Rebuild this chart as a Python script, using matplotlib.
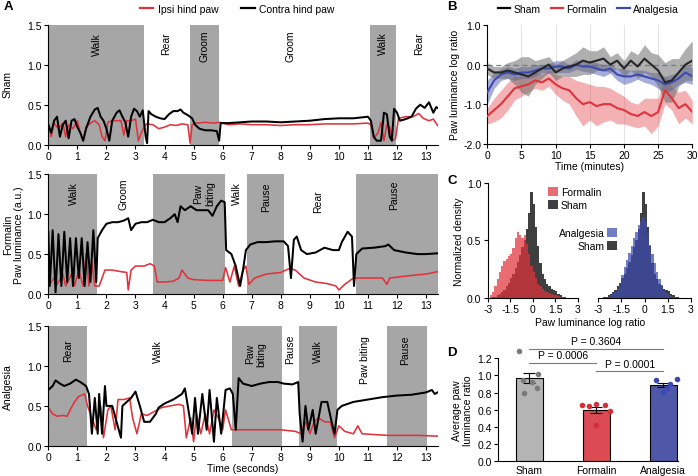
import numpy as np
import matplotlib
matplotlib.use("Agg")
import matplotlib.pyplot as plt
from matplotlib.patches import Patch
from matplotlib.lines import Line2D

plt.rcParams['font.family'] = ['Liberation Sans', 'DejaVu Sans']
plt.rcParams['font.size'] = 7.5
plt.rcParams['axes.unicode_minus'] = False
plt.rcParams['axes.linewidth'] = 0.8
plt.rcParams['xtick.major.size'] = 3
plt.rcParams['ytick.major.size'] = 3
plt.rcParams['xtick.major.width'] = 0.8
plt.rcParams['ytick.major.width'] = 0.8
plt.rcParams['xtick.major.pad'] = 1.5
plt.rcParams['ytick.major.pad'] = 1.5

RED = '#e0333c'
BLUE = '#3c4bb0'
SHADE = '#a6a6a6'

# ---------------- panel A data (time s, luminance a.u.) ----------------
sham_ipsi = [(0, 0.25), (0.1, 0.1), (0.2, 0.27), (0.35, 0.2), (0.5, 0.27), (0.6, 0.1), (0.7, 0.25),
             (0.85, 0.2), (1.0, 0.3), (1.1, 0.15), (1.2, 0.05), (1.3, 0.22), (1.45, 0.27), (1.6, 0.3),
             (1.75, 0.25), (1.85, 0.1), (1.95, 0.05), (2.05, 0.28), (2.2, 0.3), (2.35, 0.3), (2.5, 0.3),
             (2.6, 0.12), (2.7, 0.3), (2.85, 0.3), (3.0, 0.32), (3.1, 0.05), (3.2, 0.15), (3.3, 0.22),
             (3.38, 0.26), (3.6, 0.25), (3.8, 0.2), (4.0, 0.22), (4.2, 0.25), (4.4, 0.24), (4.6, 0.26),
             (4.8, 0.25), (4.88, 0.02), (4.95, 0.25), (5.1, 0.27), (5.4, 0.28), (5.7, 0.27), (5.9, 0.28),
             (6.2, 0.25), (6.6, 0.26), (7.0, 0.25), (7.5, 0.25), (8.0, 0.24), (8.5, 0.25), (9.0, 0.25),
             (9.5, 0.26), (10.0, 0.26), (10.5, 0.26), (11.0, 0.27), (11.1, 0.25), (11.2, 0.08),
             (11.35, 0.15), (11.45, 0.28), (11.55, 0.05), (11.65, 0.25), (11.75, 0.22), (11.85, 0.05),
             (11.95, 0.08), (12.05, 0.33), (12.3, 0.35), (12.55, 0.35), (12.75, 0.39), (12.9, 0.33),
             (13.1, 0.3), (13.25, 0.32), (13.4, 0.24)]
sham_contra = [(0, 0.25), (0.1, 0.15), (0.2, 0.3), (0.3, 0.35), (0.4, 0.1), (0.5, 0.25), (0.6, 0.3),
               (0.7, 0.08), (0.8, 0.3), (0.9, 0.32), (1.0, 0.22), (1.1, 0.15), (1.2, 0.05), (1.3, 0.2),
               (1.45, 0.35), (1.6, 0.44), (1.7, 0.46), (1.8, 0.35), (1.9, 0.3), (2.0, 0.2), (2.1, 0.05),
               (2.2, 0.3), (2.35, 0.4), (2.45, 0.43), (2.55, 0.35), (2.65, 0.28), (2.75, 0.1), (2.85, 0.35),
               (2.95, 0.45), (3.05, 0.42), (3.15, 0.35), (3.25, 0.43), (3.35, 0.1), (3.4, 0.02),
               (3.45, 0.42), (3.55, 0.38), (3.7, 0.35), (3.85, 0.33), (4.0, 0.32), (4.15, 0.38),
               (4.3, 0.42), (4.45, 0.42), (4.55, 0.44), (4.65, 0.4), (4.8, 0.37), (4.95, 0.33),
               (5.05, 0.25), (5.2, 0.2), (5.4, 0.18), (5.6, 0.18), (5.8, 0.17), (5.88, 0.05),
               (5.93, 0.27), (6.2, 0.27), (6.6, 0.28), (7.0, 0.29), (7.5, 0.29), (8.0, 0.28), (8.5, 0.29),
               (9.0, 0.3), (9.5, 0.32), (10.0, 0.33), (10.5, 0.33), (11.0, 0.35), (11.1, 0.3), (11.2, 0.1),
               (11.3, 0.05), (11.45, 0.05), (11.55, 0.4), (11.65, 0.38), (11.75, 0.1), (11.82, 0.05),
               (11.9, 0.45), (12.0, 0.4), (12.1, 0.3), (12.3, 0.32), (12.5, 0.35), (12.65, 0.45),
               (12.8, 0.5), (12.95, 0.46), (13.1, 0.53), (13.25, 0.4), (13.35, 0.47), (13.4, 0.46)]

formalin_ipsi = [(0, 0.1), (0.2, 0.2), (0.3, 0.12), (0.5, 0.25), (0.6, 0.1), (0.8, 0.25), (0.9, 0.1),
                 (1.05, 0.3), (1.2, 0.1), (1.3, 0.5), (1.4, 0.1), (1.5, 0.4), (1.6, 0.1), (1.75, 0.1),
                 (1.95, 0.3), (2.2, 0.3), (2.5, 0.28), (2.7, 0.27), (2.75, 0.05), (2.85, 0.3), (3.0, 0.35),
                 (3.3, 0.35), (3.5, 0.38), (3.65, 0.35), (3.75, 0.15), (4.0, 0.15), (4.3, 0.16), (4.5, 0.2),
                 (4.6, 0.3), (4.8, 0.2), (5.0, 0.18), (5.5, 0.17), (6.0, 0.17), (6.1, 0.33), (6.25, 0.15),
                 (6.4, 0.35), (6.55, 0.1), (6.7, 0.3), (6.8, 0.35), (6.9, 0.12), (7.1, 0.2), (7.5, 0.25),
                 (8.0, 0.27), (8.3, 0.32), (8.5, 0.3), (8.8, 0.2), (9.2, 0.15), (9.6, 0.13), (9.9, 0.1),
                 (10.0, 0.05), (10.2, 0.12), (10.5, 0.2), (11.0, 0.2), (11.5, 0.2), (11.65, 0.12),
                 (11.75, 0.2), (12.2, 0.22), (12.7, 0.24), (13.0, 0.25), (13.4, 0.28)]
formalin_contra = [(0, 0.78), (0.05, 0.1), (0.15, 0.8), (0.25, 0.02), (0.35, 0.75), (0.45, 0.1),
                   (0.55, 0.78), (0.65, 0.15), (0.75, 0.7), (0.85, 0.1), (0.95, 0.7), (1.05, 0.2),
                   (1.15, 0.7), (1.25, 0.1), (1.35, 0.65), (1.45, 0.15), (1.55, 0.8), (1.65, 0.15),
                   (1.7, 0.7), (1.85, 0.8), (2.0, 0.88), (2.2, 0.9), (2.4, 0.9), (2.6, 0.92), (2.75, 0.95),
                   (2.85, 0.8), (3.0, 0.88), (3.2, 0.9), (3.4, 0.9), (3.6, 0.93), (3.8, 0.9), (4.0, 0.9),
                   (4.2, 0.95), (4.35, 1.0), (4.45, 0.9), (4.55, 1.1), (4.7, 1.05), (4.9, 1.1), (5.1, 1.05),
                   (5.3, 1.05), (5.5, 1.05), (5.65, 0.98), (5.8, 1.1), (5.95, 1.17), (6.07, 1.15),
                   (6.12, 0.55), (6.3, 0.5), (6.45, 0.35), (6.6, 0.1), (6.7, 0.3), (6.8, 0.55), (6.95, 0.62),
                   (7.2, 0.65), (7.5, 0.65), (7.8, 0.66), (8.1, 0.66), (8.25, 0.6), (8.35, 0.2), (8.45, 0.68),
                   (8.55, 0.72), (8.7, 0.55), (8.9, 0.5), (9.2, 0.52), (9.5, 0.58), (9.8, 0.55), (10.0, 0.55),
                   (10.1, 0.65), (10.3, 0.78), (10.45, 0.72), (10.52, 0.1), (10.6, 0.5), (10.8, 0.57),
                   (11.2, 0.58), (11.6, 0.6), (11.7, 0.62), (11.9, 0.55), (12.3, 0.52), (12.7, 0.5),
                   (13.0, 0.5), (13.4, 0.51)]

analgesia_ipsi = [(0, 0.48), (0.15, 0.4), (0.3, 0.37), (0.5, 0.38), (0.65, 0.37), (0.75, 0.45),
                  (0.9, 0.55), (1.05, 0.62), (1.25, 0.65), (1.35, 0.5), (1.5, 0.35), (1.65, 0.2),
                  (1.8, 0.5), (1.9, 0.1), (2.05, 0.45), (2.15, 0.5), (2.3, 0.2), (2.4, 0.58), (2.6, 0.58),
                  (2.8, 0.6), (2.9, 0.35), (3.05, 0.15), (3.2, 0.4), (3.4, 0.38), (3.6, 0.42), (3.9, 0.48),
                  (4.2, 0.5), (4.5, 0.52), (4.65, 0.5), (4.75, 0.1), (4.9, 0.35), (5.0, 0.05), (5.1, 0.4),
                  (5.25, 0.15), (5.4, 0.4), (5.55, 0.15), (5.7, 0.45), (5.85, 0.35), (6.0, 0.2), (6.1, 0.45),
                  (6.3, 0.2), (6.5, 0.2), (7.0, 0.2), (7.5, 0.2), (8.0, 0.2), (8.5, 0.18), (8.7, 0.15),
                  (8.85, 0.3), (9.0, 0.15), (9.15, 0.3), (9.3, 0.35), (9.5, 0.3), (9.7, 0.3), (9.85, 0.1),
                  (10.0, 0.25), (10.2, 0.18), (10.5, 0.15), (10.65, 0.25), (10.8, 0.15), (11.2, 0.14),
                  (11.7, 0.13), (12.2, 0.13), (12.7, 0.13), (13.4, 0.12)]
analgesia_contra = [(0, 0.7), (0.15, 0.75), (0.25, 0.82), (0.4, 0.78), (0.55, 0.75), (0.75, 0.78),
                    (0.95, 0.83), (1.1, 0.8), (1.3, 0.75), (1.4, 0.65), (1.5, 0.15), (1.6, 0.6), (1.7, 0.15),
                    (1.75, 0.65), (1.85, 0.15), (1.95, 0.75), (2.0, 0.5), (2.2, 0.5), (2.35, 0.3), (2.5, 0.1),
                    (2.55, 0.5), (2.7, 0.55), (2.85, 0.6), (3.0, 0.68), (3.15, 0.5), (3.3, 0.3), (3.5, 0.3),
                    (3.7, 0.4), (3.8, 0.48), (4.0, 0.53), (4.3, 0.58), (4.6, 0.65), (4.7, 0.72), (4.8, 0.5),
                    (4.95, 0.15), (5.05, 0.6), (5.15, 0.15), (5.3, 0.65), (5.45, 0.2), (5.55, 0.7),
                    (5.7, 0.05), (5.8, 0.6), (5.95, 0.15), (6.1, 0.7), (6.25, 0.72), (6.35, 0.65),
                    (6.45, 0.2), (6.55, 0.85), (6.7, 0.78), (7.0, 0.75), (7.3, 0.78), (7.6, 0.8), (7.9, 0.8),
                    (8.1, 0.78), (8.4, 0.77), (8.6, 0.8), (8.65, 0.4), (8.75, 0.05), (8.85, 0.5), (8.95, 0.2),
                    (9.1, 0.45), (9.2, 0.15), (9.4, 0.55), (9.6, 0.55), (9.75, 0.3), (9.85, 0.15),
                    (9.95, 0.45), (10.1, 0.5), (10.5, 0.55), (11.0, 0.58), (11.5, 0.61), (12.0, 0.63),
                    (12.5, 0.64), (13.0, 0.67), (13.2, 0.7), (13.3, 0.65), (13.4, 0.67)]

# behaviour epochs: shaded (start, end) and labels (centre time, text)
sham_shade = [(0, 3.3), (4.88, 5.87), (11.07, 11.95)]
sham_behav = [(1.66, 'Walk'), (4.07, 'Rear'), (5.36, 'Groom'), (8.35, 'Groom'), (11.5, 'Walk'), (12.76, 'Rear')]
formalin_shade = [(0, 1.66), (3.59, 6.08), (6.85, 8.12), (10.58, 13.4)]
formalin_behav = [(0.88, 'Walk'), (2.6, 'Groom'), (5.36, 'Paw\nbiting'), (6.48, 'Walk'), (7.48, 'Pause'),
                  (9.29, 'Rear'), (11.9, 'Pause')]
analgesia_shade = [(0, 1.34), (6.33, 8.03), (8.63, 9.95), (11.66, 13.02)]
analgesia_behav = [(0.69, 'Rear'), (3.77, 'Walk'), (7.13, 'Paw\nbiting'), (8.31, 'Pause'), (9.29, 'Walk'),
                   (10.9, 'Paw biting'), (12.27, 'Pause')]

# ---------------- panel B data (minutes, log ratio) ----------------
minutes = list(range(31))
sham_mean = [-0.1, -0.2, -0.2, -0.15, -0.2, -0.25, -0.3, -0.2, -0.1, 0.0, -0.2, -0.1, -0.05, 0.0, 0.1, 0.05,
             0.1, 0.15, 0.0, 0.1, -0.1, 0.1, -0.05, 0.15, 0.0, -0.15, -0.45, -0.4, -0.2, 0.0, 0.1]
sham_err = [0.15, 0.15, 0.15, 0.2, 0.3, 0.45, 0.5, 0.3, 0.25, 0.2, 0.2, 0.2, 0.25, 0.3, 0.35, 0.3, 0.25, 0.3,
            0.2, 0.2, 0.2, 0.25, 0.3, 0.35, 0.3, 0.4, 0.5, 0.55, 0.35, 0.4, 0.5]
formalin_mean = [-1.3, -1.15, -1.0, -0.8, -0.6, -0.55, -0.5, -0.4, -0.45, -0.35, -0.5, -0.6, -0.65, -0.85,
                 -1.0, -0.95, -1.05, -1.0, -1.0, -1.1, -1.15, -1.25, -1.3, -1.2, -1.3, -1.2, -0.65, -0.85,
                 -1.1, -1.0, -1.2]
formalin_err = [0.2, 0.3, 0.35, 0.35, 0.3, 0.25, 0.2, 0.2, 0.2, 0.2, 0.25, 0.3, 0.35, 0.45, 0.55, 0.45, 0.5,
                0.45, 0.4, 0.4, 0.35, 0.3, 0.3, 0.35, 0.45, 0.35, 0.35, 0.3, 0.4, 0.35, 0.3]
analgesia_mean = [-0.7, -0.4, -0.25, -0.2, -0.25, -0.2, -0.2, -0.15, -0.1, -0.1, -0.05, -0.05, -0.1, 0.0,
                  -0.05, -0.05, -0.1, -0.15, -0.1, -0.25, -0.3, -0.3, -0.25, -0.3, -0.35, -0.4, -0.5, -0.45,
                  -0.35, -0.2, -0.3]
analgesia_err = [0.3, 0.2, 0.15, 0.15, 0.15, 0.15, 0.15, 0.15, 0.1, 0.12, 0.15, 0.15, 0.1, 0.12, 0.12, 0.15,
                 0.15, 0.15, 0.12, 0.15, 0.2, 0.15, 0.12, 0.15, 0.15, 0.2, 0.2, 0.2, 0.15, 0.25, 0.2]

# ---------------- panel C data (histograms, bins of 0.15 from -3 to 3) ----------------
hist_edges = np.linspace(-3, 3, 41)
hist_sham = [0, 0, 0.005, 0.01, 0.02, 0.03, 0.05, 0.07, 0.1, 0.13, 0.17, 0.21, 0.26, 0.31, 0.37, 0.44, 0.5,
             0.6, 0.74, 0.92, 0.82, 0.62, 0.45, 0.3, 0.21, 0.16, 0.12, 0.1, 0.08, 0.065, 0.055, 0.035, 0.02,
             0.01, 0.005, 0, 0, 0, 0, 0]
hist_formalin = [0, 0.02, 0.05, 0.1, 0.16, 0.22, 0.28, 0.32, 0.34, 0.36, 0.38, 0.43, 0.52, 0.57, 0.55, 0.52,
                 0.55, 0.47, 0.38, 0.28, 0.22, 0.17, 0.12, 0.1, 0.08, 0.06, 0.05, 0.04, 0.03, 0.025, 0.02,
                 0.015, 0.01, 0.005, 0, 0, 0, 0, 0, 0]
hist_analgesia = [0, 0, 0, 0.005, 0.01, 0.02, 0.03, 0.05, 0.08, 0.13, 0.2, 0.27, 0.33, 0.39, 0.45, 0.52, 0.57,
                  0.63, 0.67, 0.7, 0.66, 0.56, 0.46, 0.38, 0.3, 0.22, 0.16, 0.11, 0.07, 0.04, 0.025, 0.015,
                  0.01, 0.005, 0, 0, 0, 0, 0, 0]

# ---------------- panel D data ----------------
groups = ['Sham', 'Formalin', 'Analgesia']
group_mean = [0.97, 0.60, 0.89]
group_sem = [0.06, 0.035, 0.02]
sham_pts = [1.29, 1.02, 0.95, 0.92, 0.85, 0.79]
formalin_pts = [0.65, 0.64, 0.67, 0.65, 0.58, 0.42]
analgesia_pts = [0.95, 0.81, 0.85, 0.90, 0.96]
pvals = ['P = 0.3604', 'P = 0.0006', 'P = 0.0001']

W, H = 698, 477


def box(x0, y0, x1, y1):
    return [x0 / W, 1 - y1 / H, (x1 - x0) / W, (y1 - y0) / H]


def clean(ax):
    ax.spines['top'].set_visible(False)
    ax.spines['right'].set_visible(False)


fig = plt.figure(figsize=(6.98, 4.77), dpi=100)

# ---------------- A ----------------
a_rows = [
    (25.7, 145.7, sham_ipsi, sham_contra, sham_shade, sham_behav,
     [1.26, 1.27, 1.24, 1.24, 1.27, 1.27]),
    (175.3, 295.0, formalin_ipsi, formalin_contra, formalin_shade, formalin_behav,
     [1.27, 1.26, 1.27, 1.27, 1.23, 1.17, 1.25]),
    (327.3, 446.7, analgesia_ipsi, analgesia_contra, analgesia_shade, analgesia_behav,
     [1.2, 1.19, 1.16, 1.22, 1.2, 1.09, 1.21]),
]
a_axes = []
for top, bot, ipsi, contra, shade, behav, ly in a_rows:
    ax = fig.add_axes(box(48.3, top, 437.7, bot))
    clean(ax)
    for s0, s1 in shade:
        ax.axvspan(s0, s1, color=SHADE, lw=0, zorder=0)
    for (tc, txt), yy in zip(behav, ly):
        ax.text(tc, yy, txt, rotation=90, ha='center', va='center', multialignment='center', fontsize=7.5)
    t, v = zip(*ipsi)
    ax.plot(t, v, color=RED, lw=1.15, zorder=2)
    t, v = zip(*contra)
    ax.plot(t, v, color='black', lw=1.45, zorder=3)
    ax.set_xlim(0, 13.4)
    ax.set_ylim(0, 1.5)
    ax.set_xticks(range(14))
    ax.set_yticks([0, 0.5, 1.0, 1.5])
    ax.set_yticklabels(['0.0', '0.5', '1.0', '1.5'])
    a_axes.append(ax)
a_axes[2].set_xlabel('Time (seconds)', labelpad=1)

fig.text(8 / W, 1 - 85 / H, 'Sham', rotation=90, ha='center', va='center')
fig.text(8 / W, 1 - 235 / H, 'Formalin', rotation=90, ha='center', va='center')
fig.text(19 / W, 1 - 235 / H, 'Paw luminance (a.u.)', rotation=90, ha='center', va='center')
fig.text(8 / W, 1 - 387 / H, 'Analgesia', rotation=90, ha='center', va='center')

fig.legend([Line2D([], [], color=RED, lw=1.6), Line2D([], [], color='black', lw=1.6)],
           ['Ipsi hind paw', 'Contra hind paw'], loc='center', bbox_to_anchor=(237 / W, 1 - 10 / H),
           ncol=2, frameon=False, handlelength=1.3, handletextpad=0.4, columnspacing=2.2, fontsize=7.5)

# ---------------- B ----------------
axb = fig.add_axes(box(487.3, 26, 692.3, 144.7))
clean(axb)
for xv in [5, 10, 15, 20, 25]:
    axb.axvline(xv, color='#e4e4e4', lw=0.8, zorder=0)
axb.axhline(0, color='#808080', lw=0.9, ls=(0, (4, 3)), zorder=1)
mins = np.array(minutes)
for mean, err, col, al in [(formalin_mean, formalin_err, RED, 0.38), (analgesia_mean, analgesia_err, BLUE, 0.45),
                           (sham_mean, sham_err, '#6e6e6e', 0.55)]:
    m = np.array(mean)
    e = np.array(err)
    axb.fill_between(mins, m - e, m + e, color=col, alpha=al, lw=0, zorder=2)
axb.plot(mins, formalin_mean, color=RED, lw=1.5, zorder=3)
axb.plot(mins, analgesia_mean, color=BLUE, lw=1.5, zorder=3)
axb.plot(mins, sham_mean, color='#262626', lw=1.5, zorder=4)
axb.set_xlim(0, 30)
axb.set_ylim(-2, 1)
axb.set_xticks([0, 5, 10, 15, 20, 25, 30])
axb.set_yticks([1, 0, -1, -2])
axb.set_yticklabels(['1.0', '0.0', '-1.0', '-2.0'])
axb.set_xlabel('Time (minutes)', labelpad=1)
axb.set_ylabel('Paw luminance log ratio', labelpad=2)
fig.legend([Line2D([], [], color='black', lw=1.6), Line2D([], [], color=RED, lw=1.6),
            Line2D([], [], color=BLUE, lw=1.6)], ['Sham', 'Formalin', 'Analgesia'],
           loc='center', bbox_to_anchor=(588 / W, 1 - 10 / H), ncol=3, frameon=False,
           handlelength=1.2, handletextpad=0.3, columnspacing=1.0, fontsize=7.5)

# ---------------- C ----------------
SHAM_DARK = '#3f3f3f'
axc1 = fig.add_axes(box(487.7, 184, 577.7, 298.7))
axc2 = fig.add_axes(box(598.3, 184, 690.7, 298.7))
for ax, other, col in [(axc1, hist_formalin, RED), (axc2, hist_analgesia, BLUE)]:
    clean(ax)
    ax.stairs(hist_sham, hist_edges, fill=True, color=SHAM_DARK, lw=0)
    ax.stairs(other, hist_edges, fill=True, color=col, alpha=0.72, lw=0)
    ax.set_xlim(-3, 3)
    ax.set_ylim(0, 1)
    ax.set_xticks([-3, -1.5, 0, 1.5, 3])
    ax.set_xticklabels(['-3', '-1.5', '0', '1.5', '3'])
axc1.set_yticks([0, 0.5, 1.0])
axc1.set_yticklabels(['0.0', '0.5', '1.0'])
axc1.set_ylabel('Normalized density', labelpad=2)
axc2.spines['left'].set_visible(False)
axc2.set_yticks([])
fig.text(590 / W, 1 - 323 / H, 'Paw luminance log ratio', ha='center', va='center')
fig.legend([Patch(color=RED, alpha=0.72, lw=0), Patch(color=SHAM_DARK, lw=0)], ['Formalin', 'Sham'],
           loc='upper left', bbox_to_anchor=(543 / W, 1 - 183 / H), frameon=False, handlelength=0.9,
           handleheight=0.9, handletextpad=0.3, labelspacing=0.3, borderpad=0, fontsize=7.5)
fig.legend([Patch(color=BLUE, alpha=0.72, lw=0), Patch(color=SHAM_DARK, lw=0)], ['Analgesia', 'Sham'],
           loc='upper right', bbox_to_anchor=(622 / W, 1 - 224 / H), frameon=False, handlelength=0.9,
           handleheight=0.9, handletextpad=0.3, labelspacing=0.3, borderpad=0, markerfirst=False,
           fontsize=7.5)

# ---------------- D ----------------
axd = fig.add_axes(box(498.3, 359.3, 678, 462))
clean(axd)
xpos = np.arange(3)
bar_cols = ['#b4b4b4', '#dc4a54', '#4f58a8']
dot_cols = ['#7a7a7a', '#d4303a', '#3c48b4']
axd.bar(xpos, group_mean, width=0.4, color=bar_cols, edgecolor='black', lw=0.8, zorder=1)
axd.errorbar(xpos, group_mean, yerr=group_sem, fmt='none', ecolor='black', elinewidth=0.8,
             capsize=4, capthick=0.8, zorder=3)
jitters = [[-0.15, 0.13, -0.09, 0.05, 0.12, -0.08],
           [-0.21, -0.11, 0.0, 0.13, 0.21, 0.0],
           [-0.11, -0.01, 0.05, 0.1, 0.21]]
for i, pts in enumerate([sham_pts, formalin_pts, analgesia_pts]):
    axd.scatter(i + np.array(jitters[i]), pts, s=16, color=dot_cols[i], lw=0, zorder=4, clip_on=False)
axd.set_xlim(-0.46, 2.22)
axd.set_ylim(0, 1.2)
axd.set_yticks([0, 0.2, 0.4, 0.6, 0.8, 1.0, 1.2])
axd.set_yticklabels(['0.0', '0.2', '0.4', '0.6', '0.8', '1.0', '1.2'])
axd.set_xticks(xpos)
axd.set_xticklabels(groups)
axd.tick_params(axis='x', length=0, pad=3)
axd.set_ylabel('Average paw\nluminance ratio', labelpad=3)
for (i0, i1), yy, txt in zip([(0, 2), (0, 1), (1, 2)], [1.31, 1.15, 1.05], pvals):
    axd.plot([i0, i1], [yy, yy], color='#7a7a7a', lw=0.8, clip_on=False)
    axd.text((i0 + i1) / 2, yy + 0.03, txt, ha='center', va='bottom', fontsize=7.5, clip_on=False)

# panel letters
for lx, ly, letter in [(4, 7, 'A'), (447, 7, 'B'), (447, 181, 'C'), (447, 353, 'D')]:
    fig.text(lx / W, 1 - ly / H, letter, fontsize=9.5, fontweight='bold', ha='left', va='center')

fig.savefig('out.png', dpi=100)
